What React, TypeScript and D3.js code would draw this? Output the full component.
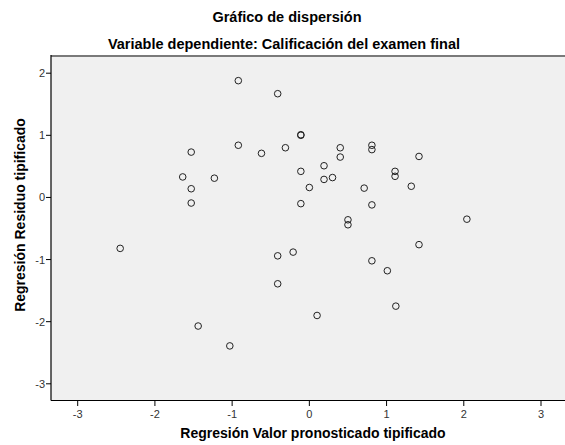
import * as d3 from 'd3';

// Standardized predicted values (x) and standardized residuals (y)
const predicted = [
  -0.92, -0.41, -0.11, -0.11, -0.92, -0.62, -0.31, -1.53, -1.64, -1.23, -1.53, -1.53,
  -0.11, 0.19, 0.19, 0.3, 0.0, -0.11, 0.4, 0.4, 0.81, 0.81, 1.42, 0.71, 1.11, 1.11,
  1.32, 0.81, 0.5, 0.5, 2.04, -2.45, -0.41, -0.21, -0.41, 0.1, -1.44, -1.03, 1.42,
  0.81, 1.01, 1.12,
];
const residuals = [
  1.88, 1.67, 1.0, 1.01, 0.84, 0.71, 0.8, 0.73, 0.33, 0.31, 0.14, -0.09, 0.42, 0.51,
  0.29, 0.32, 0.16, -0.1, 0.8, 0.65, 0.84, 0.77, 0.66, 0.15, 0.42, 0.34, 0.18, -0.12,
  -0.36, -0.44, -0.35, -0.82, -0.94, -0.88, -1.39, -1.9, -2.07, -2.39, -0.76, -1.02,
  -1.18, -1.75,
];
const xTicks = [-3, -2, -1, 0, 1, 2, 3];
const yTicks = [-3, -2, -1, 0, 1, 2];

const title = 'Gráfico de dispersión';
const subtitle = 'Variable dependiente: Calificación del examen final';
const xLabel = 'Regresión Valor pronosticado tipificado';
const yLabel = 'Regresión Residuo tipificado';

const W = 565;
const H = 445;
const FONT = 'Arial, "Liberation Sans", Helvetica, sans-serif';

export default function App() {
  const x = d3.scaleLinear().domain([-3, 3]).range([77.7, 541]);
  const y = d3.scaleLinear().domain([-3, 2]).range([383.8, 73.2]);

  // plot frame
  const left = 51;
  const top = 56;
  const right = 568;
  const bottom = 400.5;

  const points = predicted.map((v, i) => ({ px: x(v), py: y(residuals[i]) }));

  return (
    <svg
      width={W}
      height={H}
      style={{ position: 'absolute', left: 0, top: 0, background: '#fff' }}
      fontFamily={FONT}
    >
      <text x={287} y={22} textAnchor="middle" fontSize={14.5} fontWeight="bold" fill="#000">
        {title}
      </text>
      <text x={284} y={48.5} textAnchor="middle" fontSize={14.5} fontWeight="bold" fill="#000">
        {subtitle}
      </text>

      <rect x={left} y={top} width={right - left} height={bottom - top} fill="#f0f0f0" />
      <line x1={left} x2={right} y1={top} y2={top} stroke="#7a7a7a" strokeWidth={2} />
      <line x1={left} x2={left} y1={top - 1} y2={bottom} stroke="#000" strokeWidth={1.2} />
      <line x1={left} x2={right} y1={bottom} y2={bottom} stroke="#000" strokeWidth={1.2} />

      {yTicks.map((t) => (
        <g key={`y${t}`}>
          <line x1={left - 5} x2={left} y1={y(t)} y2={y(t)} stroke="#000" strokeWidth={1} />
          <text x={left - 6} y={y(t) + 4} textAnchor="end" fontSize={11} fill="#333">
            {t}
          </text>
        </g>
      ))}

      {xTicks.map((t) => (
        <g key={`x${t}`}>
          <line x1={x(t)} x2={x(t)} y1={bottom} y2={bottom + 5.5} stroke="#000" strokeWidth={1} />
          <text x={x(t)} y={418} textAnchor="middle" fontSize={11} fill="#333">
            {t}
          </text>
        </g>
      ))}

      <text x={313} y={438} textAnchor="middle" fontSize={14} fontWeight="bold" fill="#000">
        {xLabel}
      </text>
      <text
        transform="translate(25,215) rotate(-90)"
        textAnchor="middle"
        fontSize={14}
        fontWeight="bold"
        fill="#000"
      >
        {yLabel}
      </text>

      {points.map((p, i) => (
        <circle key={i} cx={p.px} cy={p.py} r={3.3} fill="none" stroke="#222" strokeWidth={1} />
      ))}
    </svg>
  );
}
